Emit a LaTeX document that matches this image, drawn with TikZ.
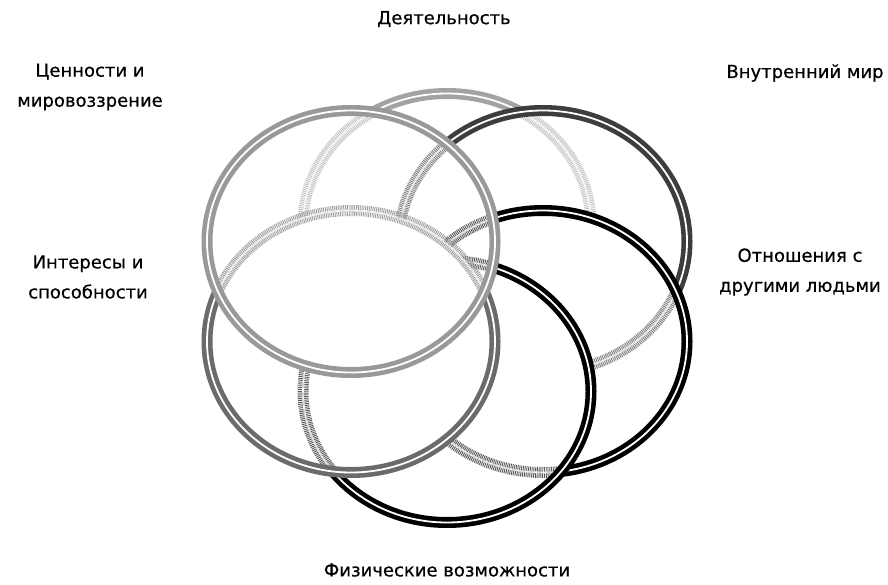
\documentclass[tikz,border=0pt]{standalone}
\usepackage{fontspec}
\setmainfont{DejaVu Sans}
\newfontfamily\lblfont{DejaVu Sans}[FakeBold=0.5]
\usetikzlibrary{calc}
\newcommand\RX{144}
\newcommand\RY{131}
\newcommand\ExclRing[1]{\clip (-20,-20) -- (910,-20) -- (910,610) -- (-20,610) -- cycle (#1) ++(\RX,0) arc[start angle=0,end angle=-360,x radius=\RX,y radius=\RY] -- cycle;}
\newcommand\InclRing[1]{\clip (#1) ellipse[x radius=\RX,y radius=\RY];}
\newcommand\RingDraw[2]{\draw[#2] (#1) ellipse[x radius=\RX,y radius=\RY];}
\tikzset{
  ringline/.style={line width=4.6pt, double=white, double distance=1.8pt},
  solidring/.style={ringline, draw=#1},
  hatchring/.style={ringline, draw=#1!65!white, dash pattern=on 0.9pt off 0.9pt},
  lbl/.style={align=center, font=\lblfont\fontsize{18}{30}\selectfont, text=black, inner sep=0pt},
}
\colorlet{colA}{black!36}
\colorlet{colB}{black!40}
\colorlet{colC}{black!58}
\colorlet{colF}{black!76}
\colorlet{colE}{black}
\colorlet{colD}{black}
\begin{document}
\begin{tikzpicture}[x=1pt,y=-1pt,even odd rule]
\useasboundingbox (0,0) rectangle (888,585);
\fill[white] (0,0) rectangle (888,585);
% ring centres
\coordinate (cA) at (447,224.5);
\coordinate (cB) at (351,241.5);
\coordinate (cC) at (351,341.5);
\coordinate (cD) at (447,391.5);
\coordinate (cE) at (543,341.5);
\coordinate (cF) at (543,241.5);
% ---------------- ring A (bottom) : above F E D C B
\begin{scope}\ExclRing{cF}\ExclRing{cE}\ExclRing{cD}\ExclRing{cC}\ExclRing{cB}\RingDraw{cA}{solidring=colA}\end{scope}
\begin{scope}\InclRing{cF}\ExclRing{cE}\ExclRing{cD}\ExclRing{cC}\ExclRing{cB}\RingDraw{cA}{hatchring=colA}\end{scope}
\begin{scope}\InclRing{cE}\ExclRing{cF}\ExclRing{cD}\ExclRing{cC}\ExclRing{cB}\RingDraw{cA}{hatchring=colA}\end{scope}
\begin{scope}\InclRing{cD}\ExclRing{cF}\ExclRing{cE}\ExclRing{cC}\ExclRing{cB}\RingDraw{cA}{hatchring=colA}\end{scope}
\begin{scope}\InclRing{cC}\ExclRing{cF}\ExclRing{cE}\ExclRing{cD}\ExclRing{cB}\RingDraw{cA}{hatchring=colA}\end{scope}
\begin{scope}\InclRing{cB}\ExclRing{cF}\ExclRing{cE}\ExclRing{cD}\ExclRing{cC}\RingDraw{cA}{hatchring=colA}\end{scope}
% ---------------- ring F : above E D C B
\begin{scope}\ExclRing{cE}\ExclRing{cD}\ExclRing{cC}\ExclRing{cB}\RingDraw{cF}{solidring=colF}\end{scope}
\begin{scope}\InclRing{cE}\ExclRing{cD}\ExclRing{cC}\ExclRing{cB}\RingDraw{cF}{hatchring=colF}\end{scope}
\begin{scope}\InclRing{cD}\ExclRing{cE}\ExclRing{cC}\ExclRing{cB}\RingDraw{cF}{hatchring=colF}\end{scope}
\begin{scope}\InclRing{cC}\ExclRing{cE}\ExclRing{cD}\ExclRing{cB}\RingDraw{cF}{hatchring=colF}\end{scope}
\begin{scope}\InclRing{cB}\ExclRing{cE}\ExclRing{cD}\ExclRing{cC}\RingDraw{cF}{hatchring=colF}\end{scope}
% ---------------- ring E : above D C B
\begin{scope}\ExclRing{cD}\ExclRing{cC}\ExclRing{cB}\RingDraw{cE}{solidring=colE}\end{scope}
\begin{scope}\InclRing{cD}\ExclRing{cC}\ExclRing{cB}\RingDraw{cE}{hatchring=colE}\end{scope}
\begin{scope}\InclRing{cC}\ExclRing{cD}\ExclRing{cB}\RingDraw{cE}{hatchring=colE}\end{scope}
\begin{scope}\InclRing{cB}\ExclRing{cD}\ExclRing{cC}\RingDraw{cE}{hatchring=colE}\end{scope}
% ---------------- ring D : above C B
\begin{scope}\ExclRing{cC}\ExclRing{cB}\RingDraw{cD}{solidring=colD}\end{scope}
\begin{scope}\InclRing{cC}\ExclRing{cB}\RingDraw{cD}{hatchring=colD}\end{scope}
\begin{scope}\InclRing{cB}\ExclRing{cC}\RingDraw{cD}{hatchring=colD}\end{scope}
% ---------------- ring C : above B
\begin{scope}\ExclRing{cB}\RingDraw{cC}{solidring=colC}\end{scope}
\begin{scope}\InclRing{cB}\RingDraw{cC}{hatchring=colC}\end{scope}
% ---------------- ring B (top)
\RingDraw{cB}{solidring=colB}
% ---------------- labels
\node[lbl] (lAct) at (444,19) {Деятельность};
\node[lbl] (lVal) at (90,87) {Ценности и\\мировоззрение};
\node[lbl] (lIn) at (805,73) {Внутренний мир};
\node[lbl] (lInt) at (88,277) {Интересы и\\способности};
\node[lbl] (lRel) at (800,272) {Отношения с\\другими людьми};
\node[lbl] (lPh) at (447,570) {Физические возможности};
\end{tikzpicture}
\end{document}
